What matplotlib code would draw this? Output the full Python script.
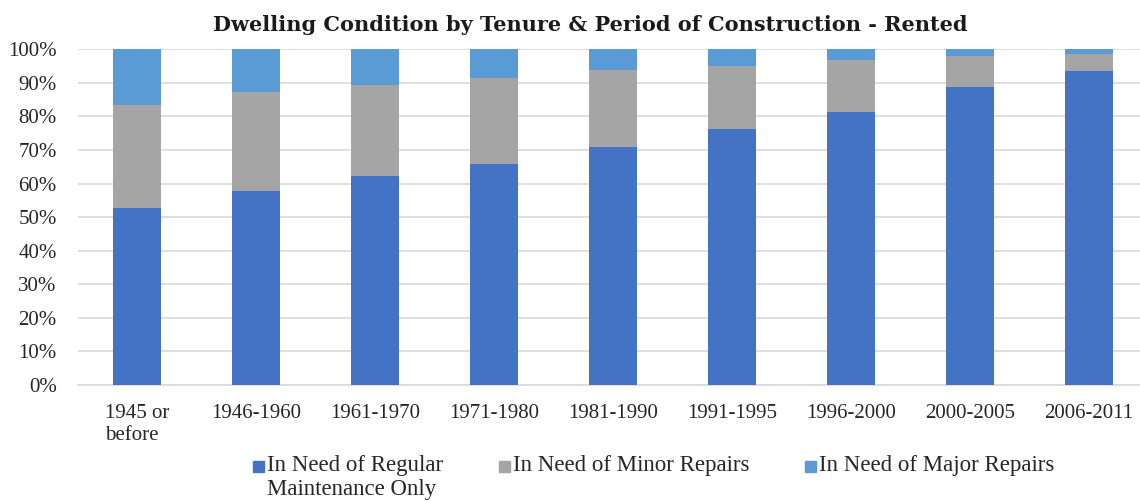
import matplotlib.pyplot as plt
from matplotlib.patches import Rectangle

plt.rcParams['font.family'] = ['Liberation Serif', 'DejaVu Serif']

# Data (share of rented dwellings, %)
periods = ['1945 or\nbefore', '1946-1960', '1961-1970', '1971-1980', '1981-1990',
           '1991-1995', '1996-2000', '2000-2005', '2006-2011']
regular = [52.6, 57.8, 62.3, 65.7, 70.9, 76.3, 81.2, 88.8, 93.6]
minor = [30.9, 29.5, 27.1, 25.7, 22.9, 18.8, 15.7, 9.3, 5.1]
major = [16.5, 12.7, 10.6, 8.6, 6.2, 4.9, 3.1, 1.9, 1.3]
series_names = ['In Need of Regular\nMaintenance Only', 'In Need of Minor Repairs',
                'In Need of Major Repairs']
colors = ['#4472C4', '#A5A5A5', '#5B9BD5']
text_color = '#262626'

W, H = 1140, 501
fig = plt.figure(figsize=(W / 100, H / 100), dpi=100)
ax = fig.add_axes([0.068, 0.2315, 0.9395, 0.670])

x = range(len(periods))
w = 0.41
ax.bar(x, regular, w, color=colors[0], zorder=3)
ax.bar(x, minor, w, bottom=regular, color=colors[1], zorder=3)
tops = [r + m for r, m in zip(regular, minor)]
ax.bar(x, major, w, bottom=tops, color=colors[2], zorder=3)

ax.set_xlim(-0.5, len(periods) - 0.5)
ax.set_ylim(0, 100)
ax.set_yticks(range(0, 101, 10))
ax.set_yticklabels([f'{v}%' for v in range(0, 101, 10)])
ax.set_xticks(list(x))
ax.set_xticklabels(periods, multialignment='left', linespacing=1.15)
ax.yaxis.grid(True, color='#D9D9D9', linewidth=1.2, zorder=0)
for s in ['top', 'right', 'left']:
    ax.spines[s].set_visible(False)
ax.spines['bottom'].set_color('#D9D9D9')
ax.spines['bottom'].set_linewidth(1.2)
ax.tick_params(length=0, labelsize=15, colors=text_color)
ax.tick_params(axis='x', pad=14)
ax.tick_params(axis='y', pad=15)

fig.text(0.518, 0.95, 'Dwelling Condition by Tenure & Period of Construction - Rented',
         ha='center', va='center', fontsize=15, fontweight='bold', color='#1a1a1a',
         family='DejaVu Serif')

# legend drawn by hand so the square lines up with the first line of text
legend_x = [253, 499, 805]
for lx, name, c in zip(legend_x, series_names, colors):
    fig.patches.append(Rectangle((lx / W, 1 - 472 / H), 11 / W, 11 / H,
                                 transform=fig.transFigure, color=c))
    lines = name.split('\n')
    for i, line in enumerate(lines):
        fig.text((lx + 14) / W, 1 - (466 + 24 * i) / H, line, ha='left', va='center',
                 fontsize=16.5, color=text_color)

plt.savefig('out.png', dpi=100)
